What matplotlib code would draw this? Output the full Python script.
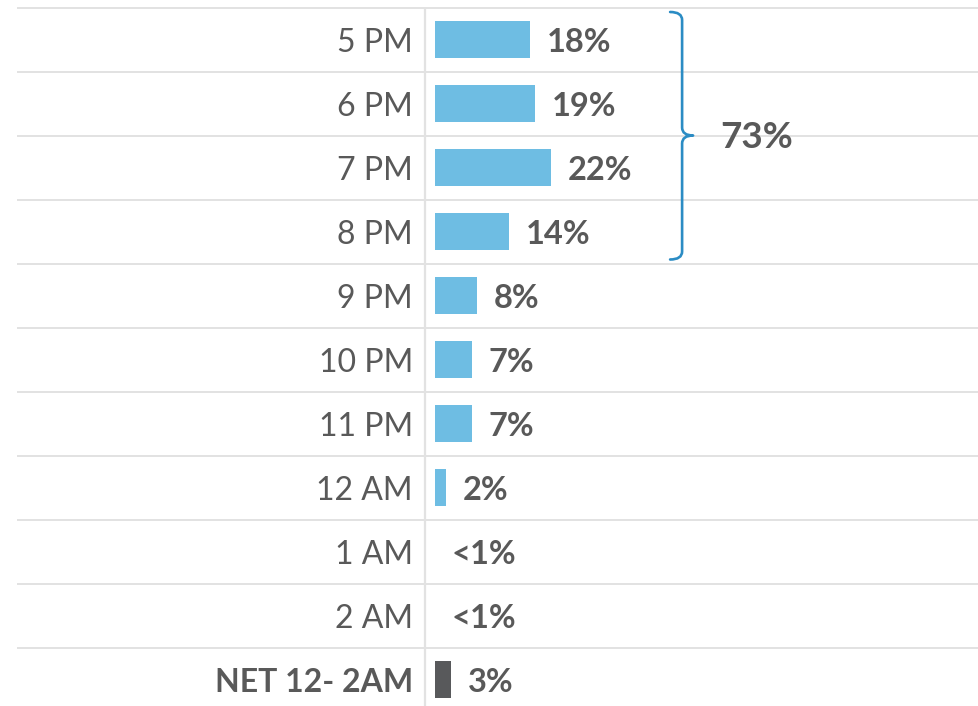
import matplotlib.pyplot as plt
from matplotlib.path import Path
from matplotlib.patches import PathPatch

# data
categories = ["5 PM", "6 PM", "7 PM", "8 PM", "9 PM", "10 PM", "11 PM",
              "12 AM", "1 AM", "2 AM", "NET 12- 2AM"]
values = [18, 19, 22, 14, 8, 7, 7, 2, 0, 0, 3]
value_labels = ["18%", "19%", "22%", "14%", "8%", "7%", "7%", "2%", "<1%", "<1%", "3%"]
group_rows = [0, 3]          # rows covered by the bracket
group_label = "73%"

BLUE = "#6EBDE3"
NET_GRAY = "#58595B"
TEXT = "#595959"
GRID = "#E2E2E2"
BRACE = "#2B8CC4"

plt.rcParams['font.family'] = ['Lato', 'DejaVu Sans']

# pixel scale of the layout (100 dpi)
PX_X = 5.28   # px per percent
PX_Y = 64.0   # px per row
X0 = 435      # px where bars start
Y0 = 39.5     # px centre of first row
W, H = 979, 706

fig = plt.figure(figsize=(W / 100, H / 100), dpi=100)
ax = fig.add_axes([0, 0, 1, 1])
ax.set_xlim(-X0 / PX_X, (W - X0) / PX_X)
ax.set_ylim((H - Y0) / PX_Y, -Y0 / PX_Y)
ax.axis('off')

n = len(categories)
rows = list(range(n))

# row separators and the axis line
ax.hlines([r - 0.5 for r in rows], (17 - X0) / PX_X, (W - X0) / PX_X,
          color=GRID, lw=1.4, zorder=0)
ax.vlines(-10 / PX_X, -0.5, (H - Y0) / PX_Y, color=GRID, lw=1.6, zorder=0)

colors = [BLUE] * (n - 1) + [NET_GRAY]
ax.barh(rows, values, height=0.58, color=colors, zorder=2)

for r, (cat, v, lab) in enumerate(zip(categories, values, value_labels)):
    is_net = cat.startswith("NET")
    ax.annotate(cat, xy=(0, r), xytext=(-22, -12.5), textcoords='offset pixels',
                ha='right', va='baseline', fontsize=23, color=TEXT,
                fontweight='bold' if is_net else 'normal')
    ax.annotate(lab, xy=(v, r), xytext=(17, -12), textcoords='offset pixels',
                ha='left', va='baseline', fontsize=23.5, color=TEXT,
                fontweight='bold')

# curly brace around the first group
bx = 46.8
arm = 12 / PX_X
tip = 11 / PX_X
curl = 8 / PX_Y
top = group_rows[0] - 0.5 + 4.5 / PX_Y
bot = group_rows[1] + 0.5 - 4 / PX_Y
mid = (group_rows[0] + group_rows[1]) / 2
verts = [
    (bx - arm, top), (bx, top), (bx, top + curl),
    (bx, mid - curl), (bx, mid), (bx + tip, mid),
    (bx, mid), (bx, mid + curl),
    (bx, bot - curl), (bx, bot), (bx - arm, bot),
]
codes = [Path.MOVETO, Path.CURVE3, Path.CURVE3,
         Path.LINETO, Path.CURVE3, Path.CURVE3,
         Path.CURVE3, Path.CURVE3,
         Path.LINETO, Path.CURVE3, Path.CURVE3]
ax.add_patch(PathPatch(Path(verts, codes), fill=False, edgecolor=BRACE,
                       lw=1.9, capstyle='round', joinstyle='round', zorder=3))

ax.annotate(group_label, xy=(bx + tip, mid), xytext=(27, -13),
            textcoords='offset pixels', ha='left', va='baseline',
            fontsize=26.5, color=TEXT, fontweight='bold')

fig.savefig("out.png", dpi=100)
